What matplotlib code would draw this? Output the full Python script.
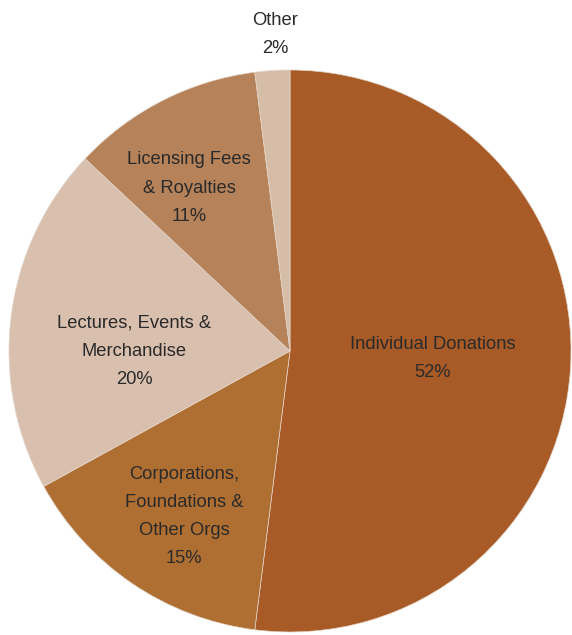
import matplotlib
matplotlib.use("Agg")
import matplotlib.pyplot as plt

categories = ["Individual Donations", "Corporations,\nFoundations &\nOther Orgs",
              "Lectures, Events &\nMerchandise", "Licensing Fees\n& Royalties", "Other"]
values = [52, 15, 20, 11, 2]
colors = ["#A85B27", "#B06F32", "#D9C0AE", "#B5825A", "#D6BDA8"]
# label anchor positions (data coords, pie radius = 1)
label_pos = [(0.509, -0.028), (-0.377, -0.59), (-0.555, 0.0), (-0.359, 0.58), (-0.053, 1.128)]

plt.rcParams['font.family'] = ['Liberation Sans', 'DejaVu Sans']
W, H = 572, 635
fig = plt.figure(figsize=(W / 100, H / 100), dpi=100)
cx, cy, r = 290, 351, 281
ax = fig.add_axes([(cx - r) / W, (H - cy - r) / H, 2 * r / W, 2 * r / H])
ax.pie(values, colors=colors, startangle=90, counterclock=False, radius=1,
       wedgeprops=dict(edgecolor="#E3D4C8", linewidth=0.5))
ax.set_xlim(-1, 1)
ax.set_ylim(-1, 1)
ax.set_aspect("equal")
ax.axis("off")

for cat, v, (x, y) in zip(categories, values, label_pos):
    ax.text(x, y, f"{cat}\n{v}%", ha="center", va="center", fontsize=13.2,
            color="#2a2a2a", linespacing=1.85, clip_on=False)

fig.savefig("out.png", dpi=100)
